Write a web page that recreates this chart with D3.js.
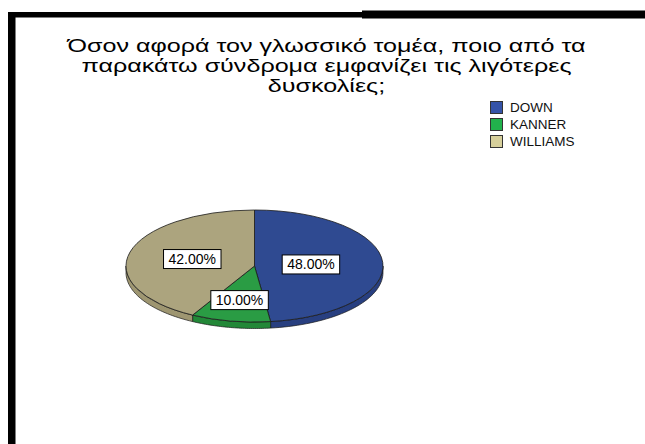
<!DOCTYPE html>
<html>
<head>
<meta charset="utf-8">
<script src="https://cdn.jsdelivr.net/npm/d3@7/dist/d3.min.js"></script>
<style>
  html, body { margin: 0; padding: 0; background: #fff; }
  svg { display: block; }
  text { font-family: "Liberation Sans", Arial, sans-serif; }
</style>
</head>
<body>
<svg id="chart" width="645" height="444"></svg>
<script>
// Chart data
const titleLines = [
  "Όσον αφορά τον γλωσσικό τομέα, ποιο από τα",
  "παρακάτω σύνδρομα εμφανίζει τις λιγότερες",
  "δυσκολίες;"
];
const categories = ["DOWN", "KANNER", "WILLIAMS"];
const percentages = [48.0, 10.0, 42.0];
const sliceColors = ["#2f4a91", "#2a9c44", "#aca47e"];
const sideColors = ["#283f80", "#238838", "#9e9671"];
const legendColors = ["#3553a8", "#22b14c", "#d6cf9b"];

const svg = d3.select("#chart");

// Outer frame (left and top edges)
svg.append("rect").attr("x", 8).attr("y", 12).attr("width", 7.5).attr("height", 440).attr("fill", "#000");
svg.append("rect").attr("x", 8).attr("y", 12).attr("width", 360).attr("height", 5.5).attr("fill", "#000");
svg.append("rect").attr("x", 362).attr("y", 10.5).attr("width", 290).attr("height", 8).attr("fill", "#000");

// Title: wide lettering, one text element per line
const titleWidth = 518;
const titleG = svg.append("g");
const titleTexts = titleLines.map((line, i) =>
  titleG.append("text")
    .attr("x", 326.5).attr("y", 52 + i * 19.8)
    .attr("text-anchor", "middle")
    .attr("font-size", 18.5)
    .attr("fill", "#000")
    .text(line));
const stretch = titleWidth / titleTexts[0].node().getComputedTextLength();
titleTexts.forEach(t => {
  t.attr("textLength", t.node().getComputedTextLength() * stretch)
   .attr("lengthAdjust", "spacingAndGlyphs");
});

// Pie geometry
const cx = 254.5, cy = 266, rx = 128.5, ry = 56, depth = 6.5;
const pie = d3.pie().sort(null).value(d => d);
const arcs = pie(percentages);
const ex = a => cx + rx * Math.sin(a);
const ey = a => cy - ry * Math.cos(a);

const g = svg.append("g");

// Side walls of the front half
const sideLine = d3.line();
arcs.forEach((d, i) => {
  const a0 = Math.max(d.startAngle, Math.PI / 2);
  const a1 = Math.min(d.endAngle, 3 * Math.PI / 2);
  if (a1 <= a0) return;
  const n = 40;
  const angs = d3.range(n + 1).map(k => a0 + (a1 - a0) * k / n);
  const top = angs.map(a => [ex(a), ey(a)]);
  const bottom = angs.slice().reverse().map(a => [ex(a), ey(a) + depth]);
  g.append("path")
    .attr("d", sideLine(top.concat(bottom)) + "Z")
    .attr("fill", sideColors[i])
    .attr("stroke", "#1a1a1a")
    .attr("stroke-width", 0.7);
});

// Top face
const arcGen = d3.arc().innerRadius(0).outerRadius(rx);
const topFace = g.append("g")
  .attr("transform", `translate(${cx},${cy}) scale(1,${ry / rx})`);
topFace.selectAll("path")
  .data(arcs)
  .join("path")
  .attr("d", arcGen)
  .attr("fill", (d, i) => sliceColors[i])
  .attr("stroke", "#1a1a1a")
  .attr("stroke-width", 0.8)
  .attr("vector-effect", "non-scaling-stroke");

// Percentage labels in boxes
const labelFrac = [0.44, 0.62, 0.5];
const fmt = d3.format(".2f");
arcs.forEach((d, i) => {
  const mid = (d.startAngle + d.endAngle) / 2;
  const lx = cx + rx * labelFrac[i] * Math.sin(mid);
  const ly = cy - ry * labelFrac[i] * Math.cos(mid);
  const lg = svg.append("g").attr("transform", `translate(${lx},${ly})`);
  const t = lg.append("text")
    .attr("text-anchor", "middle")
    .attr("dy", "0.36em")
    .attr("font-size", 14)
    .attr("fill", "#000")
    .text(fmt(percentages[i]) + "%");
  const w = t.node().getComputedTextLength() + 10;
  lg.insert("rect", "text")
    .attr("x", -w / 2).attr("y", -9.5)
    .attr("width", w).attr("height", 19)
    .attr("fill", "#fff")
    .attr("stroke", "#000")
    .attr("stroke-width", 1);
});

// Legend
const legend = svg.append("g").attr("transform", "translate(490,101)");
categories.forEach((c, i) => {
  const row = legend.append("g").attr("transform", `translate(0,${i * 17})`);
  row.append("rect")
    .attr("x", 0.5).attr("y", 0.5).attr("width", 12).attr("height", 12)
    .attr("fill", legendColors[i])
    .attr("stroke", "#333").attr("stroke-width", 1);
  row.append("text")
    .attr("x", 20).attr("y", 11)
    .attr("font-size", 13.5)
    .attr("fill", "#111")
    .text(c);
});
</script>
</body>
</html>
